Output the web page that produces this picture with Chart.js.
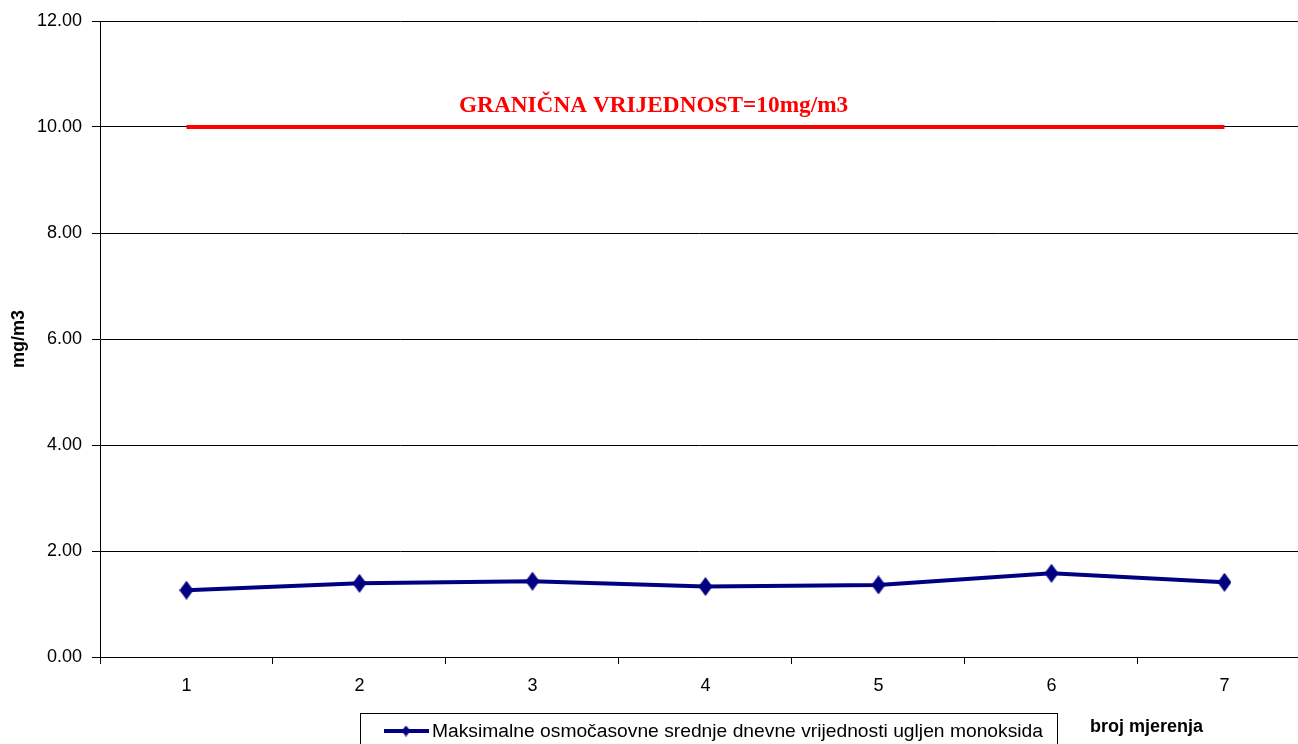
<!DOCTYPE html>
<html>
<head>
<meta charset="utf-8">
<script src="https://cdn.jsdelivr.net/npm/chart.js@4/dist/chart.umd.min.js"></script>
<style>
  html, body { margin: 0; padding: 0; background: #fff; overflow: hidden; }
  #coChart { display: block; width: 1298px; height: 744px; }
</style>
</head>
<body>
<canvas id="coChart" width="1298" height="744"></canvas>
<script>
// data
const categories = [1, 2, 3, 4, 5, 6, 7];
const coValues = [1.26, 1.39, 1.43, 1.33, 1.36, 1.58, 1.41];
const limitValues = [10, 10, 10, 10, 10, 10, 10];
const yMin = 0;
const yMax = 12;
const yStep = 2;

const seriesLabel = 'Maksimalne osmočasovne srednje dnevne vrijednosti ugljen monoksida';
const limitLabel = 'GRANIČNA VRIJEDNOST=10mg/m3';
const xTitle = 'broj mjerenja';
const yTitle = 'mg/m3';

const NAVY = '#000080';
const RED = '#ff0000';

// the original plot runs past the right edge of the picture
const xMin = 0.5;
const xMax = 7.425;

function diamond (w, h) {
  const c = document.createElement('canvas');
  c.width = w;
  c.height = h;
  const g = c.getContext('2d');
  g.fillStyle = NAVY;
  g.beginPath();
  g.moveTo(w / 2, 0);
  g.lineTo(w, h / 2);
  g.lineTo(w / 2, h);
  g.lineTo(0, h / 2);
  g.closePath();
  g.fill();
  return c;
}

const bigDiamond = diamond(14, 19);
const smallDiamond = diamond(9, 11);

// limit caption, custom legend box and x title
const extras = {
  id: 'extras',
  afterDraw (chart) {
    const ctx = chart.ctx;
    const xs = chart.scales.x;
    const ys = chart.scales.y;
    ctx.save();

    // limit caption above the red line
    ctx.fillStyle = RED;
    ctx.font = 'bold 23.3px "Liberation Serif", "Times New Roman", serif';
    ctx.textAlign = 'center';
    ctx.textBaseline = 'alphabetic';
    ctx.fillText(limitLabel, xs.getPixelForValue(3.7), ys.getPixelForValue(10) - 15);

    // legend box
    ctx.strokeStyle = '#000';
    ctx.lineWidth = 1;
    ctx.strokeRect(360.5, 713.5, 697, 60);
    ctx.strokeStyle = NAVY;
    ctx.lineWidth = 4;
    ctx.beginPath();
    ctx.moveTo(384, 731);
    ctx.lineTo(429, 731);
    ctx.stroke();
    ctx.drawImage(smallDiamond, 406 - 4.5, 731 - 5.5);
    ctx.fillStyle = '#000';
    ctx.font = '19.25px "Liberation Sans", Arial, sans-serif';
    ctx.textAlign = 'left';
    ctx.textBaseline = 'middle';
    ctx.fillText(seriesLabel, 432, 732);

    // x axis title, right of the legend
    ctx.font = 'bold 18px "Liberation Sans", Arial, sans-serif';
    ctx.fillText(xTitle, 1090, 727);
    ctx.restore();
  }
};

const ctx = document.getElementById('coChart').getContext('2d');
new Chart(ctx, {
  type: 'line',
  data: {
    datasets: [{
      label: limitLabel,
      data: categories.map((c, i) => ({ x: c, y: limitValues[i] })),
      borderColor: RED,
      borderWidth: 4,
      pointRadius: 0,
      fill: false,
      tension: 0
    }, {
      label: seriesLabel,
      data: categories.map((c, i) => ({ x: c, y: coValues[i] })),
      borderColor: NAVY,
      backgroundColor: NAVY,
      borderWidth: 4,
      pointStyle: bigDiamond,
      pointRadius: 9,
      fill: false,
      tension: 0
    }]
  },
  options: {
    responsive: false,
    animation: false,
    layout: { autoPadding: false, padding: { top: 21, left: 0, right: 0, bottom: 0 } },
    plugins: {
      legend: { display: false },
      tooltip: { enabled: false },
      title: { display: false }
    },
    scales: {
      x: {
        type: 'linear',
        min: xMin,
        max: xMax,
        afterFit (scale) {
          scale.height = 87;
          scale.paddingLeft = 0;
          scale.paddingRight = 0;
        },
        grid: {
          drawOnChartArea: false,
          color: '#000',
          tickLength: 7,
          // tick marks sit between the categories
          tickColor: (c) => (c.tick && Math.abs(c.tick.value % 1 - 0.5) < 1e-6) ? '#000' : 'rgba(0,0,0,0)'
        },
        border: { color: '#000', width: 1 },
        ticks: {
          stepSize: 0.5,
          includeBounds: false,
          autoSkip: false,
          color: '#000',
          padding: 11,
          maxRotation: 0,
          font: { family: '"Liberation Sans", Arial, sans-serif', size: 18 },
          callback: (v) => categories.includes(v) ? String(v) : ''
        }
      },
      y: {
        min: yMin,
        max: yMax,
        afterFit (scale) { scale.width = 100; },
        grid: {
          color: '#000',
          tickLength: 8,
          tickColor: '#000'
        },
        border: { color: '#000', width: 1 },
        title: {
          display: true,
          text: yTitle,
          color: '#000',
          padding: { top: 8, bottom: 0 },
          font: { family: '"Liberation Sans", Arial, sans-serif', size: 18, weight: 'bold' }
        },
        ticks: {
          stepSize: yStep,
          color: '#000',
          padding: 10,
          font: { family: '"Liberation Sans", Arial, sans-serif', size: 18 },
          callback: (v) => Number(v).toFixed(2)
        }
      }
    }
  },
  plugins: [extras]
});
</script>
</body>
</html>
